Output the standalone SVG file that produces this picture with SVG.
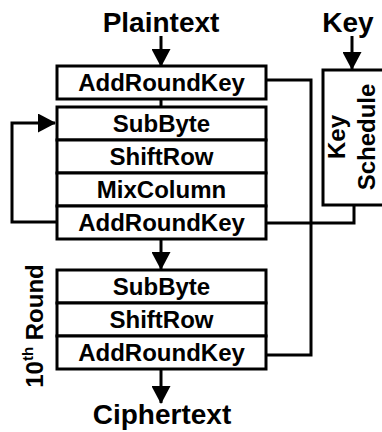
<svg xmlns="http://www.w3.org/2000/svg" width="382" height="432" viewBox="0 0 382 432">
  <style>
    .box { fill: #fff; stroke: #000; stroke-width: 3; }
    .line { fill: none; stroke: #000; stroke-width: 3; }
    .lbl { font-family: "Liberation Sans", Arial, sans-serif; font-weight: bold; font-size: 24px; fill: #000; text-anchor: middle; }
    .title { font-size: 28px; }
  </style>
  <defs>
    <marker id="arrow" viewBox="0 0 18 19" refX="17" refY="9.5" markerWidth="18" markerHeight="19" markerUnits="userSpaceOnUse" orient="auto">
      <path d="M0,0 L18,9.5 L0,19 z" fill="#000"/>
    </marker>
  </defs>

  <rect width="382" height="432" fill="#fff"/>

  <!-- connectors -->
  <g id="connectors">
    <line class="line" x1="161" y1="36" x2="161" y2="66" marker-end="url(#arrow)"/>
    <line class="line" x1="352" y1="36" x2="352" y2="69" marker-end="url(#arrow)"/>
    <line class="line" x1="161" y1="99" x2="161" y2="107"/>
    <line class="line" x1="161" y1="239" x2="161" y2="269" marker-end="url(#arrow)"/>
    <line class="line" x1="161" y1="369" x2="161" y2="403" marker-end="url(#arrow)"/>
    <!-- round feedback loop -->
    <polyline class="line" points="57,222 12,222 12,123 55,123" marker-end="url(#arrow)"/>
    <!-- round keys -->
    <polyline class="line" points="266,80 311,80 311,355 266,355"/>
    <polyline class="line" points="354,205 354,223 266,223"/>
  </g>

  <!-- initial key addition -->
  <g id="initial">
    <rect class="box" x="57" y="66" width="209" height="33"/>
    <text class="lbl" x="161.5" y="91">AddRoundKey</text>
  </g>

  <!-- main round -->
  <g id="round">
    <rect class="box" x="57" y="107" width="209" height="33"/>
    <text class="lbl" x="161.5" y="132">SubByte</text>
    <rect class="box" x="57" y="140" width="209" height="33"/>
    <text class="lbl" x="161.5" y="165">ShiftRow</text>
    <rect class="box" x="57" y="173" width="209" height="33"/>
    <text class="lbl" x="161.5" y="198">MixColumn</text>
    <rect class="box" x="57" y="206" width="209" height="33"/>
    <text class="lbl" x="161.5" y="231">AddRoundKey</text>
  </g>

  <!-- final round -->
  <g id="final">
    <rect class="box" x="57" y="270" width="209" height="33"/>
    <text class="lbl" x="161.5" y="295">SubByte</text>
    <rect class="box" x="57" y="303" width="209" height="33"/>
    <text class="lbl" x="161.5" y="328">ShiftRow</text>
    <rect class="box" x="57" y="336" width="209" height="33"/>
    <text class="lbl" x="161.5" y="361">AddRoundKey</text>
    <text class="lbl" transform="translate(43,326) rotate(-90)">10<tspan font-size="15" dy="-10">th</tspan><tspan dy="10"> Round</tspan></text>
  </g>

  <!-- key schedule -->
  <g id="keyschedule">
    <rect class="box" x="323" y="70" width="64" height="135"/>
    <text class="lbl" transform="translate(345,137) rotate(-90)">Key<tspan x="0" dy="30">Schedule</tspan></text>
  </g>

  <g id="io">
    <text class="lbl title" x="161" y="32">Plaintext</text>
    <text class="lbl title" x="348" y="32">Key</text>
    <text class="lbl title" x="162" y="424">Ciphertext</text>
  </g>
</svg>
